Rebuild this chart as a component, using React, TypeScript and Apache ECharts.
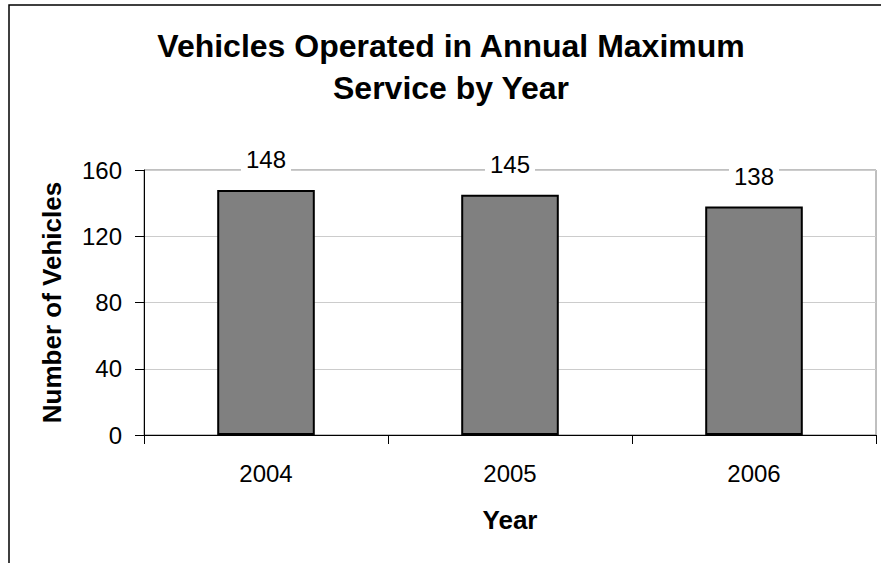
import React, { useEffect, useRef } from "react";
import * as echarts from "echarts";

const categories = ["2004", "2005", "2006"];
const vehicles = [148, 145, 138];
const yTicks = [0, 40, 80, 120, 160];
const titleLines = ["Vehicles Operated in Annual Maximum", "Service by Year"];
const yAxisTitle = "Number of Vehicles";
const xAxisTitle = "Year";

const FONT = "'Liberation Sans', Arial, sans-serif";

export default function App() {
  const ref = useRef<HTMLDivElement>(null);
  useEffect(() => {
    if (!ref.current) return;
    const chart = echarts.init(ref.current, null, { renderer: "svg" });
    chart.setOption({
      animation: false,
      backgroundColor: "#ffffff",
      textStyle: { fontFamily: FONT },
      graphic: [
        {
          type: "rect",
          shape: { x: 9, y: 5, width: 1000, height: 1000 },
          style: { fill: "none", stroke: "#000000", lineWidth: 1.5 },
          silent: true,
        },
        {
          type: "text",
          x: 451,
          y: 45.5,
          style: {
            text: titleLines[0],
            font: `bold 32px ${FONT}`,
            fill: "#000000",
            textAlign: "center",
            textVerticalAlign: "middle",
          },
        },
        {
          type: "text",
          x: 451,
          y: 88,
          style: {
            text: titleLines[1],
            font: `bold 32px ${FONT}`,
            fill: "#000000",
            textAlign: "center",
            textVerticalAlign: "middle",
          },
        },
      ],
      grid: {
        left: 144,
        top: 170,
        width: 732,
        height: 265,
        show: true,
        borderColor: "#808080",
        borderWidth: 1,
        backgroundColor: "transparent",
      },
      xAxis: {
        type: "category",
        data: categories,
        name: xAxisTitle,
        nameLocation: "middle",
        nameGap: 72,
        nameTextStyle: { fontSize: 26, fontWeight: "bold", color: "#000", fontFamily: FONT },
        axisLine: { lineStyle: { color: "#000000", width: 1 } },
        axisTick: { show: true, length: 9, lineStyle: { color: "#000000" } },
        axisLabel: { fontSize: 24, color: "#000", margin: 26, fontFamily: FONT },
      },
      yAxis: {
        type: "value",
        min: yTicks[0],
        max: yTicks[yTicks.length - 1],
        interval: yTicks[1] - yTicks[0],
        name: yAxisTitle,
        nameLocation: "middle",
        nameRotate: 90,
        nameGap: 79,
        nameTextStyle: { fontSize: 26, fontWeight: "bold", color: "#000", fontFamily: FONT },
        axisLine: { show: true, lineStyle: { color: "#000000", width: 1 } },
        axisTick: { show: true, length: 9, lineStyle: { color: "#000000" } },
        axisLabel: { fontSize: 24, color: "#000", margin: 22, fontFamily: FONT },
        splitLine: { show: true, lineStyle: { color: "#cccccc", width: 1 } },
      },
      series: [
        {
          type: "bar",
          data: vehicles,
          barCategoryGap: "60%",
          itemStyle: { color: "#808080", borderColor: "#000000", borderWidth: 2 },
          label: {
            show: true,
            position: "top",
            distance: 18,
            fontSize: 24,
            color: "#000",
            fontFamily: FONT,
            backgroundColor: "#ffffff",
            padding: [0, 5],
          },
        },
      ],
    });
    return () => chart.dispose();
  }, []);
  return (
    <div
      ref={ref}
      style={{ position: "absolute", left: 0, top: 0, width: 881, height: 563, background: "#fff" }}
    />
  );
}
